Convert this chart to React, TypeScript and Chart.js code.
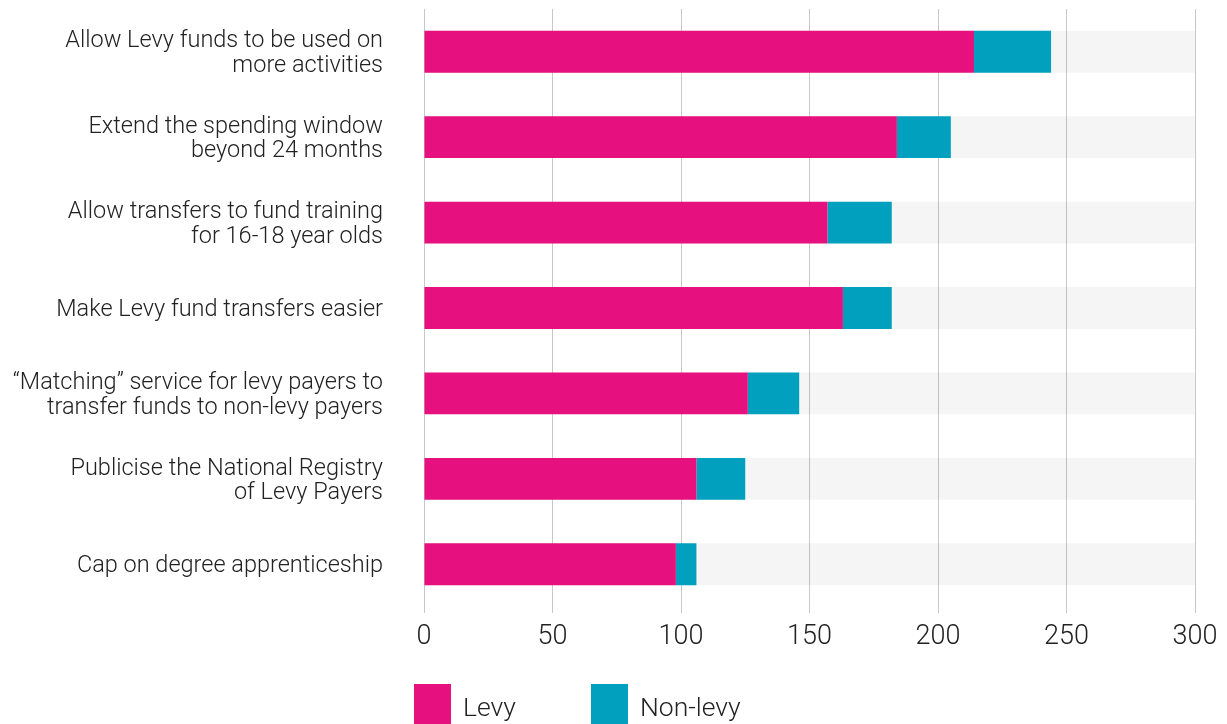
import React, { useEffect, useRef } from "react";
import { Chart, registerables } from "chart.js";

Chart.register(...registerables);

const categories: (string | string[])[] = [
  ["Allow Levy funds to be used on", "more activities"],
  ["Extend the spending window", "beyond 24 months"],
  ["Allow transfers to fund training", "for 16-18 year olds"],
  "Make Levy fund transfers easier",
  ["\u201CMatching\u201D service for levy payers to", "transfer funds to non-levy payers"],
  ["Publicise the National Registry", "of Levy Payers"],
  "Cap on degree apprenticeship",
];
const levy = [214, 184, 157, 163, 126, 106, 98];
const nonLevy = [30, 21, 25, 19, 20, 19, 8];
const track = [300, 300, 300, 300, 300, 300, 300];
const xTicks = [0, 50, 100, 150, 200, 250, 300];
const seriesNames = ["Levy", "Non-levy"];

const PINK = "#E6107E";
const TEAL = "#00A0BE";
const TEXT = "#222222";
const FONT = "Roboto";

const legendPlugin = {
  id: "customLegend",
  afterDraw(chart: any) {
    const ctx = chart.ctx;
    const left = chart.chartArea.left - 10;
    const items = [
      { label: seriesNames[0], color: PINK, x: left },
      { label: seriesNames[1], color: TEAL, x: left + 177 },
    ];
    ctx.save();
    ctx.font = `300 26.5px ${FONT}`;
    ctx.textBaseline = "middle";
    ctx.textAlign = "left";
    for (const it of items) {
      ctx.fillStyle = it.color;
      ctx.fillRect(it.x, 684, 37, 44);
      ctx.fillStyle = TEXT;
      ctx.fillText(it.label, it.x + 49, 709);
    }
    ctx.restore();
  },
};

export default function App() {
  const ref = useRef<HTMLCanvasElement | null>(null);
  useEffect(() => {
    if (!ref.current) return;
    const chart = new Chart(ref.current, {
      type: "bar",
      data: {
        labels: categories,
        datasets: [
          { label: seriesNames[0], data: levy, backgroundColor: PINK, stack: "main", grouped: false, barPercentage: 0.49, categoryPercentage: 1 } as any,
          { label: seriesNames[1], data: nonLevy, backgroundColor: TEAL, stack: "main", grouped: false, barPercentage: 0.49, categoryPercentage: 1 } as any,
          { label: "track", data: track, backgroundColor: "rgba(0,0,0,0.04)", stack: "track", grouped: false, barPercentage: 0.49, categoryPercentage: 1 } as any,
        ],
      },
      options: {
        indexAxis: "y",
        animation: false,
        responsive: false,
        layout: { padding: { top: 9, right: 32, bottom: 71, left: 0 } },
        plugins: { legend: { display: false }, tooltip: { enabled: false } },
        scales: {
          x: {
            stacked: true,
            min: 0,
            max: 300,
            afterBuildTicks: (s: any) => {
              s.ticks = xTicks.map((v) => ({ value: v }));
            },
            afterFit: (s: any) => {
              s.paddingLeft = 0;
              s.paddingRight = 0;
              s.height = 46;
            },
            ticks: { color: TEXT, padding: 8, font: { family: FONT, size: 27, weight: "300" } },
            grid: { color: "#c8c8c8", lineWidth: 1, tickLength: 6, drawTicks: true },
            border: { display: false },
          },
          y: {
            stacked: true,
            afterFit: (s: any) => {
              s.width = 424;
              s.paddingTop = 0;
              s.paddingBottom = 0;
            },
            ticks: { color: TEXT, padding: 0, labelOffset: 2, font: { family: FONT, size: 23.5, weight: "300", lineHeight: 1.04 } },
            grid: { display: true, drawOnChartArea: false, drawTicks: true, tickLength: 41, color: "rgba(0,0,0,0)" },
            border: { display: false },
          },
        },
      },
      plugins: [legendPlugin],
    });
    return () => chart.destroy();
  }, []);
  return (
    <div style={{ position: "absolute", left: 0, top: 0, width: 1227, height: 724, background: "#fff" }}>
      <canvas ref={ref} width={1227} height={724} />
    </div>
  );
}
